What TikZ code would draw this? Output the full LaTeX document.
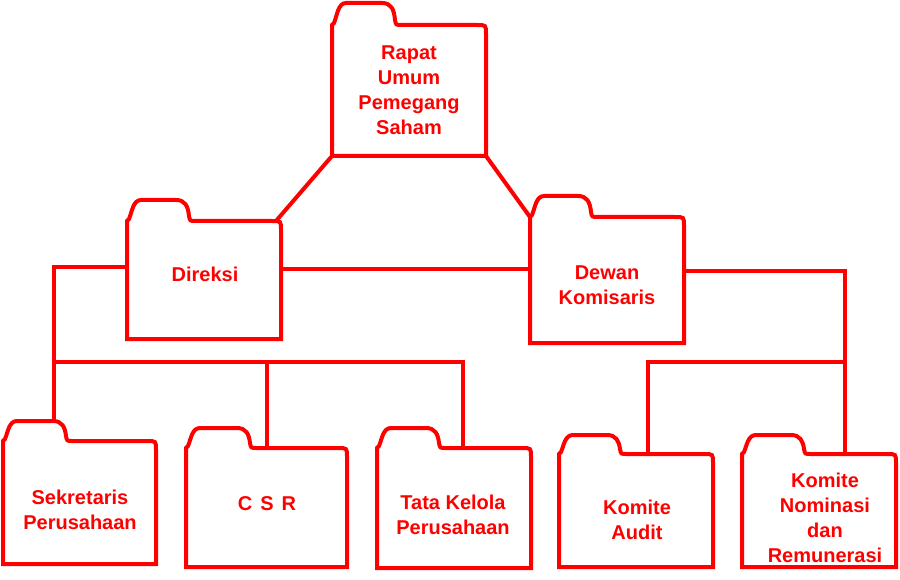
\documentclass[tikz,border=0pt]{standalone}
\usepackage{fontspec}
\setmainfont{Liberation Sans}
% folder outline round a body node: name, tab width, tab height
\newcommand{\foldertab}[3]{%
  \begin{scope}[shift={(#1.north west)}]
    \draw[edge] (#1.south west) -- (0,0) -- (2,-2)
      .. controls (5,-9) and (6,-#3) .. (14,-#3) -- ({#2-16},-#3)
      .. controls ({#2-7},-#3) and ({#2-4},{-#3+6}) .. ({#2-3},-5)
      .. controls ({#2-2},0) .. ({#2+3},0)
      -- ([xshift=-9pt]#1.north east) .. controls (#1.north east) .. ([yshift=-9pt]#1.north east)
      -- (#1.south east) -- cycle;
  \end{scope}}
\begin{document}
\begin{tikzpicture}[x=1pt, y=-1pt,
    edge/.style={draw=red, line width=4pt},
    body/.style={minimum width=154pt, inner sep=0pt, outer sep=0pt},
    txt/.style={text=red, align=center, inner sep=0pt, font=\fontsize{20}{25}\selectfont\bfseries}]
  \useasboundingbox[fill=white] (0,0) rectangle (900,580);
  % folders
  \node[body, minimum height=131pt] (rups) at (409,90.5) {};
  \node[body, minimum height=118pt] (dir) at (204,280) {};
  \node[body, minimum height=126pt] (dk) at (607,280) {};
  \node[body, minimum width=153pt, minimum height=123pt] (sek) at (79.5,502.5) {};
  \node[body, minimum width=161pt, minimum height=119pt] (csr) at (266.5,507.5) {};
  \node[body, minimum height=120pt] (tkp) at (454,508) {};
  \node[body, minimum height=113pt] (ka) at (636,510.5) {};
  \node[body, minimum height=113pt] (knr) at (819,510.5) {};
  \foreach \f/\w/\h in {rups/66/22, dir/65/21, dk/64/21, sek/66/20, csr/67/20, tkp/65/20, ka/64/19, knr/65/19}
    {\foldertab{\f}{\w}{\h}}
  % labels
  \node[txt] (rupsT) at (409,90.5) {Rapat\\Umum\\Pemegang\\Saham};
  \node[txt] (dirT) at (205,274) {Direksi};
  \node[txt] (dkT) at (607,285) {Dewan\\Komisaris};
  \node[txt] (sekT) at (80,509.5) {Sekretaris\\Perusahaan};
  \node[txt] (csrT) at (267,504) {\spaceskip=8pt\relax C S R};
  \node[txt] (tkpT) at (453,515) {Tata Kelola\\Perusahaan};
  \node[txt] (kaT) at (637,520) {Komite\\Audit};
  \node[txt] (knrT) at (825,518) {Komite\\Nominasi\\dan\\Remunerasi};
  % connectors
  \coordinate (lbus) at (54,362);
  \coordinate (rbus) at (845,362);
  \draw[edge] (rups.south west) -- ([xshift=-5pt]dir.north east);
  \draw[edge] (rups.south east) -- (dk.north west);
  \draw[edge] ([yshift=11pt]dir.east) -- ([yshift=11pt]dir.east -| dk.west);
  \draw[edge] ([yshift=13pt]dir.west) -| ([xshift=51pt,yshift=20pt]sek.north west);
  \draw[edge] (lbus) -| ([xshift=9pt]tkp.north);
  \draw[edge] (csr.north |- lbus) -- (csr.north);
  \draw[edge] ([yshift=9pt]dk.east) -| ([xshift=26pt]knr.north);
  \draw[edge] (rbus) -| ([xshift=12pt]ka.north);
\end{tikzpicture}
\end{document}
